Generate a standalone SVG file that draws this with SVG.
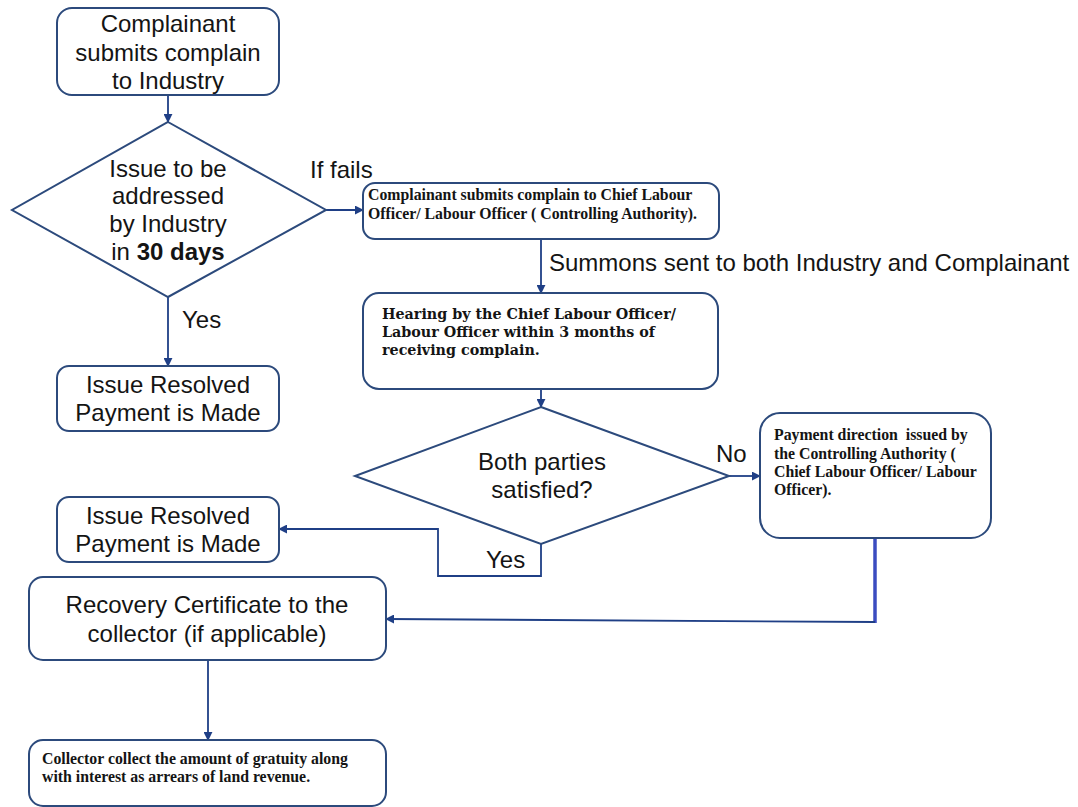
<svg xmlns="http://www.w3.org/2000/svg" width="1078" height="807" viewBox="0 0 1078 807">
  <style>
    .box { fill: #ffffff; stroke: #2c4a7c; stroke-width: 2; }
    .dia { fill: #ffffff; stroke: #2c4a7c; stroke-width: 2; }
    .sans { font-family: "Liberation Sans", Arial, sans-serif; font-size: 24px; fill: #141414; }
    .serif { font-family: "Liberation Serif", "Times New Roman", serif; font-weight: bold; font-size: 15.8px; fill: #141414; }
    .wide { font-family: "DejaVu Serif", "Liberation Serif", serif; font-weight: bold; font-size: 14.3px; fill: #141414; }
    .mid { text-anchor: middle; }
    .link { fill: none; stroke: #1f3f86; stroke-width: 1.8; }
    .thick { fill: none; stroke: #3b4cc0; stroke-width: 3.5; }
  </style>
  <defs>
    <marker id="arrow" viewBox="0 0 10 10" refX="9" refY="5" markerWidth="9" markerHeight="9" markerUnits="userSpaceOnUse" orient="auto">
      <path d="M0,0 L10,5 L0,10 z" fill="#1f3f86"/>
    </marker>
  </defs>

  <!-- connectors -->
  <g id="connectors">
    <line class="link" x1="168" y1="95" x2="168" y2="122" marker-end="url(#arrow)"/>
    <line class="link" x1="326" y1="210" x2="363" y2="210" marker-end="url(#arrow)"/>
    <line class="link" x1="168" y1="297" x2="168" y2="366" marker-end="url(#arrow)"/>
    <line class="link" x1="541" y1="239" x2="541" y2="293" marker-end="url(#arrow)"/>
    <line class="link" x1="541" y1="389" x2="541" y2="407" marker-end="url(#arrow)"/>
    <line class="link" x1="729" y1="476" x2="760" y2="476" marker-end="url(#arrow)"/>
    <polyline class="link" points="541,544 541,576 438,576 438,529 279,529" marker-end="url(#arrow)"/>
    <line class="thick" x1="875" y1="538" x2="875" y2="623"/>
    <line class="link" x1="875" y1="622" x2="386" y2="619" marker-end="url(#arrow)"/>
    <line class="link" x1="208" y1="660" x2="208" y2="740" marker-end="url(#arrow)"/>
    <text class="sans" x="310" y="178">If fails</text>
    <text class="sans" x="549" y="271">Summons sent to both Industry and Complainant</text>
    <text class="sans" x="182" y="328">Yes</text>
    <text class="sans" x="716" y="462">No</text>
    <text class="sans" x="486" y="568">Yes</text>
  </g>

  <!-- start -->
  <g id="submit-industry">
    <rect class="box" x="57" y="8" width="222" height="87" rx="15"/>
    <text class="sans mid" x="168" y="32">Complainant</text>
    <text class="sans mid" x="168" y="61">submits complain</text>
    <text class="sans mid" x="168" y="89">to Industry</text>
  </g>

  <g id="decision-30-days">
    <polygon class="dia" points="168,122 326,210 168,297 12,210"/>
    <text class="sans mid" x="168" y="177">Issue to be</text>
    <text class="sans mid" x="168" y="204">addressed</text>
    <text class="sans mid" x="168" y="232">by Industry</text>
    <text class="sans mid" x="168" y="260">in <tspan font-weight="bold">30 days</tspan></text>
  </g>

  <g id="resolved-early">
    <rect class="box" x="57" y="366" width="222" height="65" rx="12"/>
    <text class="sans mid" x="168" y="393">Issue Resolved</text>
    <text class="sans mid" x="168" y="421">Payment is Made</text>
  </g>

  <g id="submit-authority">
    <rect class="box" x="363" y="183" width="356" height="56" rx="12"/>
    <text class="serif" x="368" y="200">Complainant submits complain to Chief Labour</text>
    <text class="serif" x="368" y="219">Officer/ Labour Officer ( Controlling Authority).</text>
  </g>

  <g id="hearing">
    <rect class="box" x="363" y="293" width="355" height="96" rx="16"/>
    <text class="wide" x="382" y="319">Hearing by the Chief Labour Officer/</text>
    <text class="wide" x="382" y="337">Labour Officer within 3 months of</text>
    <text class="wide" x="382" y="355">receiving complain.</text>
  </g>

  <g id="decision-satisfied">
    <polygon class="dia" points="541,407 729,476 541,544 355,476"/>
    <text class="sans mid" x="542" y="470">Both parties</text>
    <text class="sans mid" x="542" y="498">satisfied?</text>
  </g>

  <g id="payment-direction">
    <rect class="box" x="760" y="413" width="231" height="125" rx="20"/>
    <text class="serif" x="774" y="440">Payment direction&#160; issued by</text>
    <text class="serif" x="774" y="459">the Controlling Authority (</text>
    <text class="serif" x="774" y="477">Chief Labour Officer/ Labour</text>
    <text class="serif" x="774" y="495">Officer).</text>
  </g>

  <g id="resolved-hearing">
    <rect class="box" x="57" y="497" width="222" height="65" rx="12"/>
    <text class="sans mid" x="168" y="524">Issue Resolved</text>
    <text class="sans mid" x="168" y="552">Payment is Made</text>
  </g>

  <g id="recovery-certificate">
    <rect class="box" x="29" y="577" width="357" height="83" rx="14"/>
    <text class="sans mid" x="207" y="613">Recovery Certificate to the</text>
    <text class="sans mid" x="207" y="642">collector (if applicable)</text>
  </g>

  <g id="collector">
    <rect class="box" x="29" y="740" width="357" height="66" rx="14"/>
    <text class="serif" x="42" y="764">Collector collect the amount of gratuity along</text>
    <text class="serif" x="42" y="782">with interest as arrears of land revenue.</text>
  </g>
</svg>
